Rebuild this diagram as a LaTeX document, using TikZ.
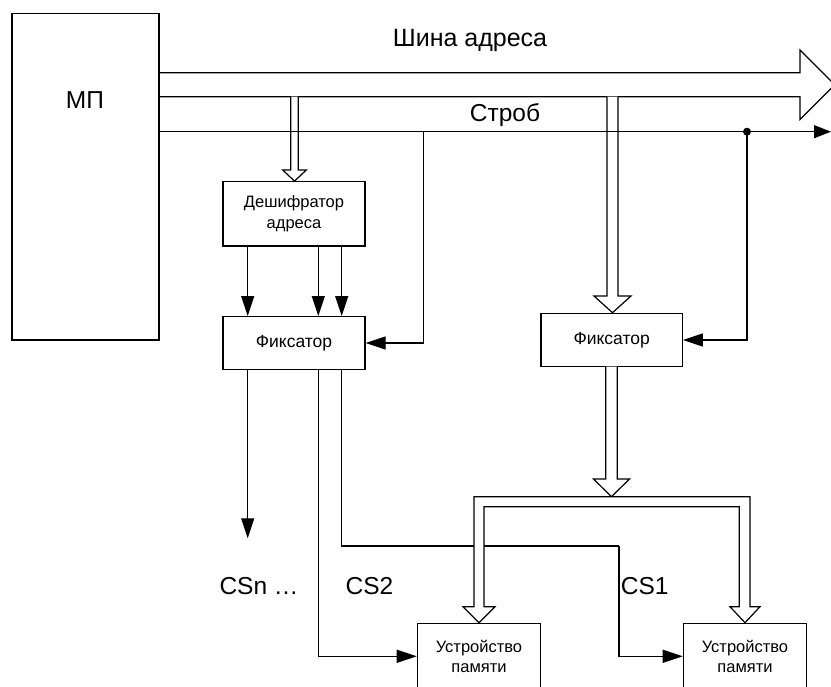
\documentclass[tikz,border=0pt]{standalone}
\usepackage{fontspec}
\setmainfont{Liberation Sans}
\usetikzlibrary{arrows.meta}
\tikzset{
  base/.style={line width=1.2pt},
  box/.style={draw, line width=1.2pt, fill=white, inner sep=0pt, align=center, font=\fontsize{16.5}{20.5}\selectfont},
  fixbox/.style={box, font=\fontsize{17.5}{21}\selectfont},
  bigtext/.style={inner sep=0pt, font=\fontsize{24.5}{28}\selectfont},
  arr/.style={line width=1.2pt, -{Triangle[length=20pt,width=13pt]}},
  pipe/.style={draw, line width=1.2pt, fill=white, line join=miter}
}
\begin{document}
\begin{tikzpicture}[x=1pt,y=-1pt]
\useasboundingbox (0,0) rectangle (831,687);
% boxes
\node[box, minimum width=147pt, minimum height=326.3pt] (mp) at (85.5,176.9) {};
\node[bigtext] (mplabel) at (85,100) {МП};
\node[box, minimum width=142pt, minimum height=64.3pt] (dec) at (294,213.9) {Дешифратор\\адреса};
\node[fixbox, minimum width=142pt, minimum height=52.6pt] (fix1) at (294,343) {Фиксатор};
\node[fixbox, minimum width=141.3pt, minimum height=53.4pt] (fix2) at (611.7,340) {Фиксатор};
\node[box, minimum width=123.4pt, minimum height=66pt] (mem1) at (479,656.3) {Устройство\\памяти};
\node[box, minimum width=123.4pt, minimum height=66pt] (mem2) at (745,656.3) {Устройство\\памяти};
% texts
\node[bigtext, font=\fontsize{25}{28}\selectfont] (busl) at (470,40) {Шина адреса};
\node[bigtext] (strl) at (505,115) {Строб};
\node[bigtext] (csn) at (259,586) {CSn …};
\node[bigtext] (cs2) at (369.5,586) {CS2};
\node[bigtext] (cs1) at (644.7,586.5) {CS1};
% address bus (wide arrow)
\draw[base, line join=miter] (mp.east |- 0,72.7) -- (800,72.7) -- (800,50) -- (834.7,84.7) -- (800,119.4) -- (800,96.7) -- (mp.east |- 0,96.7);
% strobe
\draw[base, -{Triangle[length=17pt,width=13pt]}] (mp.east |- 0,131.7) -- (831,131.7);
\coordinate (sdot) at (747,131.7);
\fill (sdot) circle (4pt);
\coordinate (s1) at (423.5,131.7);
\draw[arr] (s1) |- (fix1.east);
\draw[arr] (sdot) |- (fix2.east);
% pipe: bus -> decoder
\draw[pipe] (290.7,96.7) -- (290.7,170) -- (282.7,170) -- (dec.north -| 294.5,0) -- (306.3,170) -- (298.3,170) -- (298.3,96.7);
% pipe: bus -> fix2
\draw[pipe] (607,96.7) -- (607,296) -- (594,296) -- (fix2.north -| 612.5,0) -- (631,296) -- (618,296) -- (618,96.7);
% strobe line redrawn across pipes
\draw[base] (280,131.7) -- (310,131.7);
\draw[base] (600,131.7) -- (625,131.7);
% decoder -> fixator arrows
\coordinate (c1) at (247.7,0);
\coordinate (c2) at (318.3,0);
\coordinate (c3) at (341.7,0);
\draw[arr] (dec.south -| c1) -- (fix1.north -| c1);
\draw[arr] (dec.south -| c2) -- (fix1.north -| c2);
\draw[arr] (dec.south -| c3) -- (fix1.north -| c3);
% chip-select lines (drawn before the local bus so the bus covers them)
\coordinate (csnend) at (247.7,538.3);
\draw[arr] (fix1.south -| c1) -- (csnend);
\draw[arr] (fix1.south -| c2) |- (mem1.west);
\coordinate (cs1a) at (619,546);
\draw[base] (fix1.south -| c3) |- (cs1a);
\draw[arr] (cs1a) |- (mem2.west);
% fix2 -> local bus
\coordinate (lb) at (611.5,496.7);
\draw[pipe] (605.7,366.7) -- (605.7,479) -- (593.5,479) -- (lb) -- (629.5,479) -- (617.3,479) -- (617.3,366.7);
% local bus with drops to memories
\draw[pipe] (474,606.7) -- (474,496.7) -- (750,496.7) -- (750,606.7) -- (760,606.7) -- (mem2.north) -- (730,606.7) -- (739.3,606.7) -- (739.3,506.7) -- (484,506.7) -- (484,606.7) -- (495,606.7) -- (mem1.north) -- (463,606.7) -- cycle;
\end{tikzpicture}
\end{document}
